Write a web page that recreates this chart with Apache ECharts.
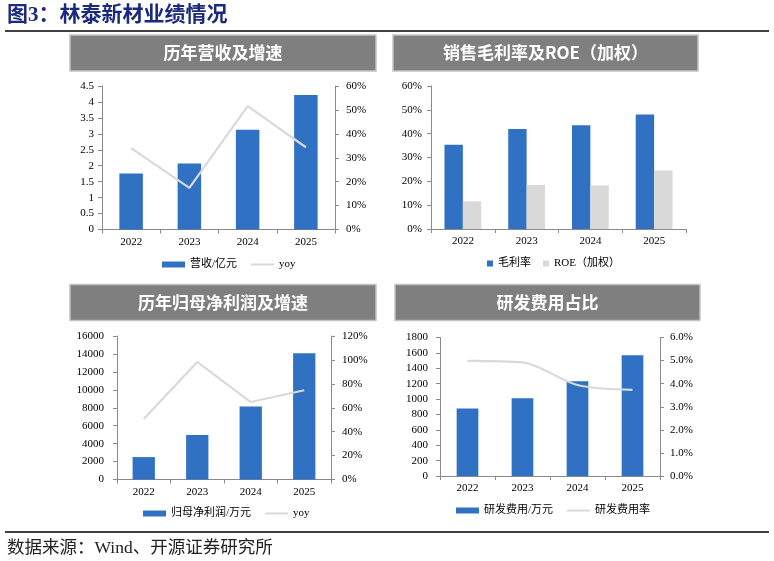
<!DOCTYPE html>
<html>
<head>
<meta charset="utf-8">
<script src="https://cdn.jsdelivr.net/npm/echarts@6/dist/echarts.min.js"></script>
<style>
  html, body { margin: 0; padding: 0; background: #fff; }
  #chart { width: 774px; height: 561px; }
</style>
</head>
<body>
<div id="chart"></div>
<script>
  // data
  const years = ['2022', '2023', '2024', '2025']
  const revenue = [1.76, 2.07, 3.13, 4.22]          // 营收/亿元
  const revenueYoy = [34.0, 17.4, 51.6, 34.4]       // %
  const grossMargin = [35.4, 42.0, 43.5, 48.0]      // 毛利率 %
  const roe = [11.6, 18.5, 18.3, 24.5]              // ROE（加权）%
  const netProfit = [2500, 4950, 8130, 14070]       // 归母净利润/万元
  const netProfitYoy = [50.6, 98.3, 64.8, 74.6]     // %
  const rdCost = [878, 1012, 1233, 1570]            // 研发费用/万元
  const rdRate = [4.99, 4.92, 3.94, 3.73]           // 研发费用率 %

  const BLUE = '#3071c4'
  const GREY = '#d9d9d9'
  const AXIS = '#8a8a8a'
  const SERIF = '"Liberation Serif", "Noto Sans CJK SC", serif'
  const CJK = '"Noto Sans CJK SC", sans-serif'

  const chart = echarts.init(document.getElementById('chart'))

  function xAxis (grid) {
    return {
      type: 'category',
      gridIndex: grid,
      data: years,
      axisLine: { lineStyle: { color: AXIS } },
      axisTick: { show: true, length: 4, lineStyle: { color: AXIS } },
      axisLabel: { color: '#000', fontFamily: SERIF, fontSize: 11, margin: 7 },
    }
  }

  function yAxis (grid, max, interval, fmt, pos, margin) {
    return {
      type: 'value',
      gridIndex: grid,
      position: pos,
      min: 0,
      max: max,
      interval: interval,
      splitLine: { show: false },
      axisLine: { show: true, lineStyle: { color: AXIS } },
      axisTick: { show: true, length: 4, lineStyle: { color: AXIS } },
      axisLabel: { color: '#000', fontFamily: SERIF, fontSize: 11, margin: margin, formatter: fmt },
    }
  }

  function legend (left, top, names, square) {
    return {
      left: left,
      top: top,
      padding: 0,
      itemWidth: square ? 6 : 23,
      itemHeight: 6,
      itemGap: square ? 12 : 13,
      textStyle: { color: '#000', fontFamily: SERIF, fontSize: 11 },
      data: names,
    }
  }

  // line series: show only the stroke in the legend, no dot
  function lineItem (name) {
    return { name: name, itemStyle: { opacity: 0 } }
  }

  function titleBox (x, y, w, h, text) {
    return {
      type: 'group',
      children: [
        { type: 'rect', shape: { x: x, y: y, width: w, height: h },
          style: { fill: '#7f7f7f', stroke: '#c4c4c4', lineWidth: 1.5 } },
        { type: 'text', x: x + w / 2, y: y + h / 2,
          style: { text: text, fill: '#fff', font: 'bold 17px ' + CJK,
                   align: 'center', verticalAlign: 'middle' } },
      ],
    }
  }

  const plain = v => String(v)
  const pct0 = '{value}%'
  const pct1 = v => v.toFixed(1) + '%'

  const option = {
    animation: false,
    backgroundColor: '#fff',
    graphic: [
      { type: 'text', x: 7, y: 16,
        style: { text: '图3：林泰新材业绩情况', fill: '#1b2a7c',
                 font: 'bold 21px ' + SERIF, verticalAlign: 'middle' } },
      { type: 'line', shape: { x1: 5, y1: 31, x2: 769, y2: 31 },
        style: { stroke: '#000', lineWidth: 1.5 } },
      titleBox(70, 35, 306, 36, '历年营收及增速'),
      titleBox(393, 35, 305, 36, '销售毛利率及ROE（加权）'),
      titleBox(70, 284.5, 306, 36, '历年归母净利润及增速'),
      titleBox(395, 284.5, 305, 36, '研发费用占比'),
      { type: 'line', shape: { x1: 5, y1: 532, x2: 769, y2: 532 },
        style: { stroke: '#000', lineWidth: 1.5 } },
      { type: 'text', x: 7, y: 548,
        style: { text: '数据来源：Wind、开源证券研究所', fill: '#222',
                 font: '17.5px ' + SERIF, verticalAlign: 'middle' } },
    ],
    grid: [
      { left: 102, top: 86, width: 233, height: 143.5 },
      { left: 431, top: 86, width: 255, height: 143 },
      { left: 117, top: 336, width: 214, height: 143.5 },
      { left: 440, top: 337.5, width: 220, height: 138.5 },
    ],
    xAxis: [xAxis(0), xAxis(1), xAxis(2), xAxis(3)],
    yAxis: [
      yAxis(0, 4.5, 0.5, plain, 'left', 8),
      yAxis(0, 60, 10, pct0, 'right', 11),
      yAxis(1, 60, 10, pct0, 'left', 9),
      yAxis(2, 16000, 2000, plain, 'left', 13),
      yAxis(2, 120, 20, pct0, 'right', 11),
      yAxis(3, 1800, 200, plain, 'left', 12),
      yAxis(3, 6, 1, pct1, 'right', 10),
    ],
    legend: [
      legend(162, 259, [{ name: '营收/亿元', icon: 'rect' }, lineItem('yoy')], false),
      legend(487, 258, [{ name: '毛利率', icon: 'rect' }, { name: 'ROE（加权）', icon: 'rect' }], true),
      legend(143, 508, [{ name: '归母净利润/万元', icon: 'rect' }, lineItem('yoy')], false),
      legend(456, 505, [{ name: '研发费用/万元', icon: 'rect' }, lineItem('研发费用率')], false),
    ],
    series: [
      { name: '营收/亿元', type: 'bar', xAxisIndex: 0, yAxisIndex: 0,
        barWidth: 23.5, itemStyle: { color: BLUE }, data: revenue },
      { name: 'yoy', type: 'line', xAxisIndex: 0, yAxisIndex: 1, symbol: 'none',
        lineStyle: { color: GREY, width: 2.2 }, itemStyle: { color: GREY }, data: revenueYoy },

      { name: '毛利率', type: 'bar', xAxisIndex: 1, yAxisIndex: 2, barGap: '0%',
        barWidth: 18.4, itemStyle: { color: BLUE }, data: grossMargin },
      { name: 'ROE（加权）', type: 'bar', xAxisIndex: 1, yAxisIndex: 2,
        barWidth: 18.4, itemStyle: { color: GREY }, data: roe },

      { name: '归母净利润/万元', type: 'bar', xAxisIndex: 2, yAxisIndex: 3,
        barWidth: 22.3, itemStyle: { color: BLUE }, data: netProfit },
      { name: 'yoy', type: 'line', xAxisIndex: 2, yAxisIndex: 4, symbol: 'none',
        lineStyle: { color: GREY, width: 2.2 }, itemStyle: { color: GREY }, data: netProfitYoy },

      { name: '研发费用/万元', type: 'bar', xAxisIndex: 3, yAxisIndex: 5,
        barWidth: 21.7, itemStyle: { color: BLUE }, data: rdCost },
      { name: '研发费用率', type: 'line', xAxisIndex: 3, yAxisIndex: 6, symbol: 'none', smooth: 0.3,
        lineStyle: { color: GREY, width: 2.2 }, itemStyle: { color: GREY }, data: rdRate },
    ],
  }

  chart.setOption(option)
</script>
</body>
</html>
